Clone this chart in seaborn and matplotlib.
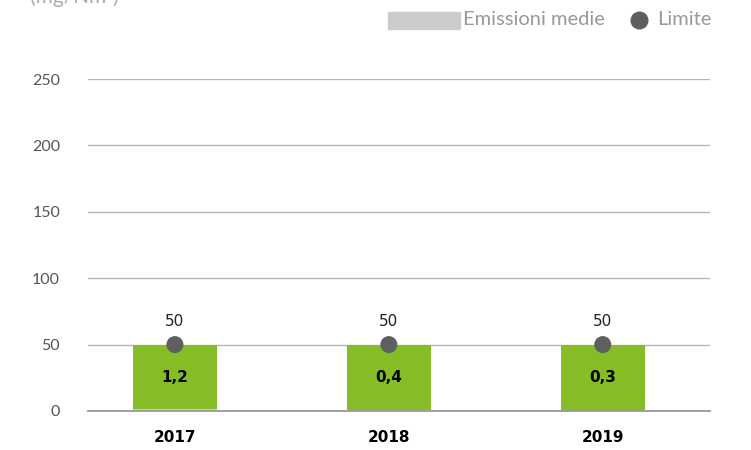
import matplotlib.pyplot as plt
import seaborn as sns
import pandas as pd
from matplotlib.patches import Rectangle
from matplotlib.lines import Line2D

# Data
years = ["2017", "2018", "2019"]
emissioni = [1.2, 0.4, 0.3]
emissioni_labels = ["1,2", "0,4", "0,3"]
limite = [50, 50, 50]
y_ticks = [0, 50, 100, 150, 200, 250]

df = pd.DataFrame({"anno": years, "emissioni": emissioni, "limite": limite})

sns.set_theme(style="white")
plt.rcParams["font.family"] = ["Lato", "DejaVu Sans"]

fig = plt.figure(figsize=(7.51, 4.5), dpi=100)
ax = fig.add_axes([0.117, 0.0867, 0.828, 0.7377])

# green part: headroom up to the limit, gray part: average emissions
sns.barplot(data=df, x="anno", y="limite", color="#86BC25", saturation=1,
            width=0.393, linewidth=0, ax=ax, zorder=2)
sns.barplot(data=df, x="anno", y="emissioni", color="#CCCCCC", saturation=1,
            width=0.393, linewidth=0, ax=ax, zorder=3)
sns.scatterplot(data=df, x="anno", y="limite", color="#5f5f5f", s=150,
                edgecolor="none", ax=ax, zorder=5, legend=False)

for i, (lim, lab) in enumerate(zip(limite, emissioni_labels)):
    ax.text(i, lim / 2, lab, ha="center", va="center", fontsize=11,
            fontweight="bold", family="DejaVu Sans", color="black", zorder=6)
    ax.text(i, lim + 12, str(lim), ha="center", va="bottom", fontsize=11,
            family="DejaVu Sans", color="#222222", zorder=6)

ax.set_xlim(-0.407, 2.5)
ax.set_ylim(0, 250)
ax.set_yticks(y_ticks)
ax.set_yticklabels([str(t) for t in y_ticks], fontsize=11.5, color="#555555")
ax.set_xticks(range(len(years)))
ax.set_xticklabels(years, fontsize=11, fontweight="bold", family="DejaVu Sans",
                   color="black")
ax.tick_params(axis="y", length=0, pad=20)
ax.tick_params(axis="x", length=0, pad=14)
ax.set_xlabel("")
ax.set_ylabel("")
ax.grid(axis="y", color="#b5b5b5", linewidth=1, zorder=0)
for s in ["top", "right", "left"]:
    ax.spines[s].set_visible(False)
ax.spines["bottom"].set_color("#999999")
ax.spines["bottom"].set_linewidth(1.3)
ax.spines["bottom"].set_zorder(4)

# unit label, cut at the top edge
fig.text(0.04, 1.008, "(mg/Nm³)", fontsize=15, color="#aaaaaa", va="center")

# legend, placed by hand
fig.add_artist(Rectangle((0.5166, 0.9356), 0.0959, 0.0378, color="#CCCCCC",
                         transform=fig.transFigure))
fig.text(0.6165, 0.9556, "Emissioni medie", fontsize=14.5, color="#999999",
         va="center", ha="left")
fig.add_artist(Line2D([0.8509], [0.9556], marker="o", color="none",
                      markerfacecolor="#5f5f5f", markeredgecolor="none",
                      markersize=13, transform=fig.transFigure))
fig.text(0.8748, 0.9556, "Limite", fontsize=14.5, color="#999999",
         va="center", ha="left")

fig.savefig("out.png", dpi=100)
